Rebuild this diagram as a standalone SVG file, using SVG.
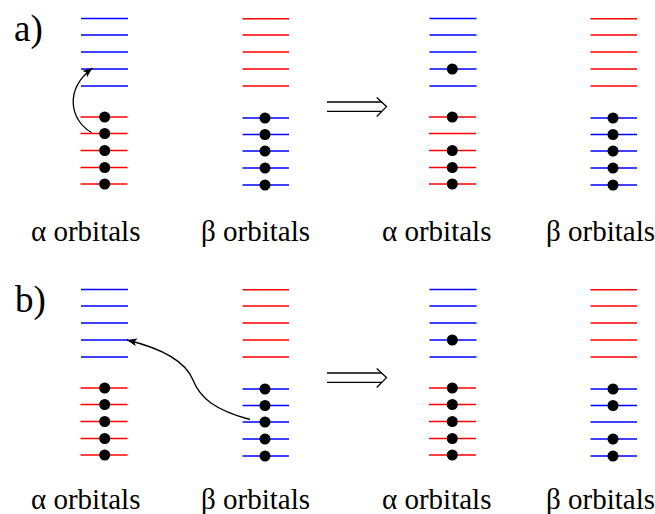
<svg xmlns="http://www.w3.org/2000/svg" width="655" height="514" viewBox="0 0 655 514">
  <style>
    .a { stroke: #0000ff; stroke-width: 1.6; }
    .r { stroke: #ff0000; stroke-width: 1.6; }
    .e { fill: #000; }
    .lbl { font-size: 29px; fill: #000; }
    .tag { font-size: 37px; fill: #000; }
    .con { fill: none; stroke: #000; stroke-width: 1.3; }
  </style>
  <defs>
    <marker id="head" markerUnits="userSpaceOnUse" markerWidth="12" markerHeight="10" refX="10" refY="4" orient="auto">
      <path d="M0,0 L10,4 L0,8 L2.5,4 z" fill="#000"/>
    </marker>
    <!-- alpha column: 5 unoccupied (blue) levels above 5 occupied (red) levels -->
    <g id="alphaLevels">
      <line class="a" x1="81" y1="18.5" x2="128" y2="18.5"/>
      <line class="a" x1="81" y1="35" x2="128" y2="35"/>
      <line class="a" x1="81" y1="52" x2="128" y2="52"/>
      <line class="a" x1="81" y1="69" x2="128" y2="69"/>
      <line class="a" x1="81" y1="86" x2="128" y2="86"/>
      <line class="r" x1="80.5" y1="117" x2="127.5" y2="117"/>
      <line class="r" x1="80.5" y1="133.5" x2="127.5" y2="133.5"/>
      <line class="r" x1="80.5" y1="150.5" x2="127.5" y2="150.5"/>
      <line class="r" x1="80.5" y1="167.5" x2="127.5" y2="167.5"/>
      <line class="r" x1="80.5" y1="184" x2="127.5" y2="184"/>
    </g>
    <!-- beta column: 5 red levels above 5 blue levels -->
    <g id="betaLevels">
      <line class="r" x1="242.5" y1="18.7" x2="289" y2="18.7"/>
      <line class="r" x1="242.5" y1="35" x2="289" y2="35"/>
      <line class="r" x1="242.5" y1="52" x2="289" y2="52"/>
      <line class="r" x1="242.5" y1="69" x2="289" y2="69"/>
      <line class="r" x1="242.5" y1="86" x2="289" y2="86"/>
      <line class="a" x1="242.5" y1="118" x2="289" y2="118"/>
      <line class="a" x1="242.5" y1="134.5" x2="289" y2="134.5"/>
      <line class="a" x1="242.5" y1="151" x2="289" y2="151"/>
      <line class="a" x1="242.5" y1="168" x2="289" y2="168"/>
      <line class="a" x1="242.5" y1="185" x2="289" y2="185"/>
    </g>
    <g id="implies">
      <line x1="327" y1="102" x2="382" y2="102" stroke="#000" stroke-width="1.3"/>
      <line x1="327" y1="111.3" x2="382" y2="111.3" stroke="#000" stroke-width="1.3"/>
      <polyline points="376.7,97.5 386.5,106.6 376.7,116.5" fill="none" stroke="#000" stroke-width="1.3"/>
    </g>
  </defs>

  <!-- panel a -->
  <g id="panelA">
    <text class="tag" x="14" y="40.5" font-family="Liberation Serif">a)</text>
    <g id="a-alpha-before">
      <use href="#alphaLevels"/>
      <circle class="e" cx="104.7" cy="117" r="5.5"/>
      <circle class="e" cx="104.7" cy="133.5" r="5.5"/>
      <circle class="e" cx="104.7" cy="150.5" r="5.5"/>
      <circle class="e" cx="104.7" cy="167.5" r="5.5"/>
      <circle class="e" cx="104.7" cy="184" r="5.5"/>
    </g>
    <g id="a-beta-before">
      <use href="#betaLevels"/>
      <circle class="e" cx="265" cy="118" r="5.5"/>
      <circle class="e" cx="265" cy="134.5" r="5.5"/>
      <circle class="e" cx="265" cy="151" r="5.5"/>
      <circle class="e" cx="265" cy="168" r="5.5"/>
      <circle class="e" cx="265" cy="185" r="5.5"/>
    </g>
    <use id="a-implies" href="#implies"/>
    <g id="a-alpha-after">
      <use href="#alphaLevels" x="348.5"/>
      <circle class="e" cx="452.3" cy="69" r="5.5"/>
      <circle class="e" cx="452.3" cy="117" r="5.5"/>
      <circle class="e" cx="452.3" cy="150.5" r="5.5"/>
      <circle class="e" cx="452.3" cy="167.5" r="5.5"/>
      <circle class="e" cx="452.3" cy="184" r="5.5"/>
    </g>
    <g id="a-beta-after">
      <use href="#betaLevels" x="348"/>
      <circle class="e" cx="613" cy="118" r="5.5"/>
      <circle class="e" cx="613" cy="134.5" r="5.5"/>
      <circle class="e" cx="613" cy="151" r="5.5"/>
      <circle class="e" cx="613" cy="168" r="5.5"/>
      <circle class="e" cx="613" cy="185" r="5.5"/>
    </g>
    <text class="lbl" x="31" y="241" font-family="Liberation Serif">α orbitals</text>
    <text class="lbl" x="201" y="241" font-family="Liberation Serif">β orbitals</text>
    <text class="lbl" x="382" y="241" font-family="Liberation Serif">α orbitals</text>
    <text class="lbl" x="546" y="241" font-family="Liberation Serif">β orbitals</text>
  </g>

  <!-- panel b, same layout shifted down -->
  <g id="panelB" transform="translate(0,271)">
    <text class="tag" x="15" y="41" font-family="Liberation Serif">b)</text>
    <g id="b-alpha-before">
      <use href="#alphaLevels"/>
      <circle class="e" cx="104.7" cy="117" r="5.5"/>
      <circle class="e" cx="104.7" cy="133.5" r="5.5"/>
      <circle class="e" cx="104.7" cy="150.5" r="5.5"/>
      <circle class="e" cx="104.7" cy="167.5" r="5.5"/>
      <circle class="e" cx="104.7" cy="184" r="5.5"/>
    </g>
    <g id="b-beta-before">
      <use href="#betaLevels"/>
      <circle class="e" cx="265" cy="118" r="5.5"/>
      <circle class="e" cx="265" cy="134.5" r="5.5"/>
      <circle class="e" cx="265" cy="151" r="5.5"/>
      <circle class="e" cx="265" cy="168" r="5.5"/>
      <circle class="e" cx="265" cy="185" r="5.5"/>
    </g>
    <use id="b-implies" href="#implies"/>
    <g id="b-alpha-after">
      <use href="#alphaLevels" x="348.5"/>
      <circle class="e" cx="452.3" cy="69" r="5.5"/>
      <circle class="e" cx="452.3" cy="117" r="5.5"/>
      <circle class="e" cx="452.3" cy="133.5" r="5.5"/>
      <circle class="e" cx="452.3" cy="150.5" r="5.5"/>
      <circle class="e" cx="452.3" cy="167.5" r="5.5"/>
      <circle class="e" cx="452.3" cy="184" r="5.5"/>
    </g>
    <g id="b-beta-after">
      <use href="#betaLevels" x="348"/>
      <circle class="e" cx="613" cy="118" r="5.5"/>
      <circle class="e" cx="613" cy="134.5" r="5.5"/>
      <circle class="e" cx="613" cy="168" r="5.5"/>
      <circle class="e" cx="613" cy="185" r="5.5"/>
    </g>
    <text class="lbl" x="31" y="237.5" font-family="Liberation Serif">α orbitals</text>
    <text class="lbl" x="201" y="237.5" font-family="Liberation Serif">β orbitals</text>
    <text class="lbl" x="382" y="237.5" font-family="Liberation Serif">α orbitals</text>
    <text class="lbl" x="546" y="237.5" font-family="Liberation Serif">β orbitals</text>
  </g>

  <!-- excitation arrows -->
  <g id="connectors">
    <path class="con" d="M91.5,132.5 C70,120 64,90 92.5,68" marker-end="url(#head)"/>
    <path class="con" d="M250,419.5 C215,410 200,398 193,380 C185,360 160,348 127,340" marker-end="url(#head)"/>
  </g>
</svg>
